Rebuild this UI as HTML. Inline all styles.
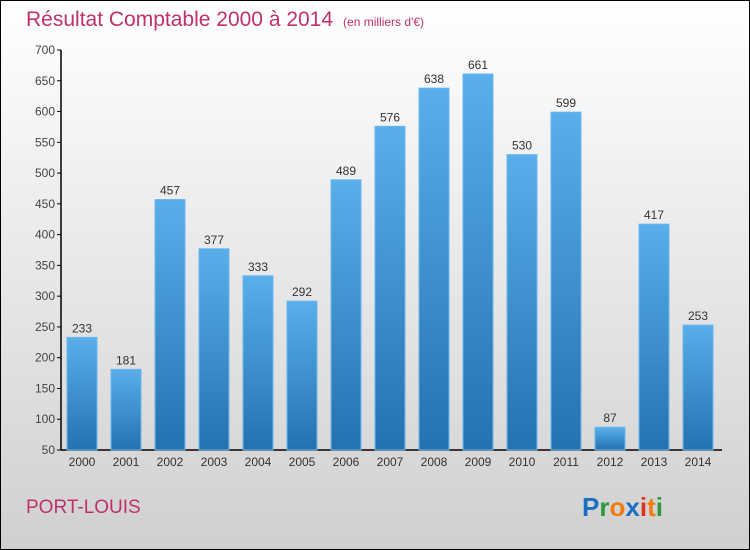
<!DOCTYPE html>
<html><head><meta charset="utf-8"><style>
body{margin:0}
#c{width:750px;height:550px;position:relative;box-sizing:border-box;border:1px solid #000;background:linear-gradient(#fff,#d0d0d0);font-family:"Liberation Sans",sans-serif;overflow:hidden}
</style></head><body>
<div id="c">
<svg width="750" height="550" style="position:absolute;left:-1px;top:-1px" id="s">
<defs><linearGradient id="g" x1="0" y1="0" x2="0" y2="1"><stop offset="0" stop-color="#5aaeea"/><stop offset="1" stop-color="#2472b0"/></linearGradient></defs>
<text x="26" y="26" font-size="21" fill="#c0306a">Résultat Comptable 2000 à 2014<tspan font-size="12" dx="10">(en milliers d'€)</tspan></text>
<text x="26" y="513" font-size="19" fill="#c0306a">PORT-LOUIS</text>
<text x="582" y="516" font-size="26" font-weight="bold"><tspan fill="#1a6fc4">P</tspan><tspan fill="#2a9a3a">r</tspan><tspan fill="#f07c10">o</tspan><tspan fill="#1a6fc4">x</tspan><tspan fill="#e03020">i</tspan><tspan fill="#f07c10">t</tspan><tspan fill="#2a9a3a">i</tspan></text>
<g id="ax"></g><g id="bars"></g>
</svg></div>
<script>
const categories=["2000","2001","2002","2003","2004","2005","2006","2007","2008","2009","2010","2011","2012","2013","2014"];
const values=[233,181,457,377,333,292,489,576,638,661,530,599,87,417,253];
const yTicks=[50,100,150,200,250,300,350,400,450,500,550,600,650,700];
const NS="http://www.w3.org/2000/svg";
const y=v=>450-(v-50)*400/650;
const x=i=>67+i*44;
function mk(t,a,p,txt){const e=document.createElementNS(NS,t);for(const k in a)e.setAttribute(k,a[k]);if(txt!=null)e.textContent=txt;p.appendChild(e);return e;}
const ax=document.getElementById('ax'),bg=document.getElementById('bars');
const yl=mk('line',{x1:61,y1:50,x2:61,y2:450,stroke:'#000','stroke-width':1.5},ax);


const xl=mk('line',{x1:61,y1:450,x2:722,y2:450,stroke:'#000','stroke-width':1.5},ax);


yTicks.forEach(v=>{
 const t=mk('line',{x1:57,y1:y(v),x2:61,y2:y(v),stroke:'#000'},ax);
 
 
 const l=mk('text',{x:55,y:y(v)+4,'font-size':12,fill:'#444','text-anchor':'end'},ax,v);
 
 
});
categories.forEach((c,i)=>{
 const r=mk('rect',{x:x(i),y:y(values[i]),width:30,height:450-y(values[i]),fill:'url(#g)',stroke:'#6ab8ee','stroke-width':1},bg);
 
 
 const v=mk('text',{x:x(i)+15,y:y(values[i])-5,'font-size':12,fill:'#333','text-anchor':'middle'},bg,values[i]);
 
 
 const l=mk('text',{x:x(i)+15,y:466,'font-size':12,fill:'#333','text-anchor':'middle'},bg,c);
 
 
});
</script>
</body></html>
